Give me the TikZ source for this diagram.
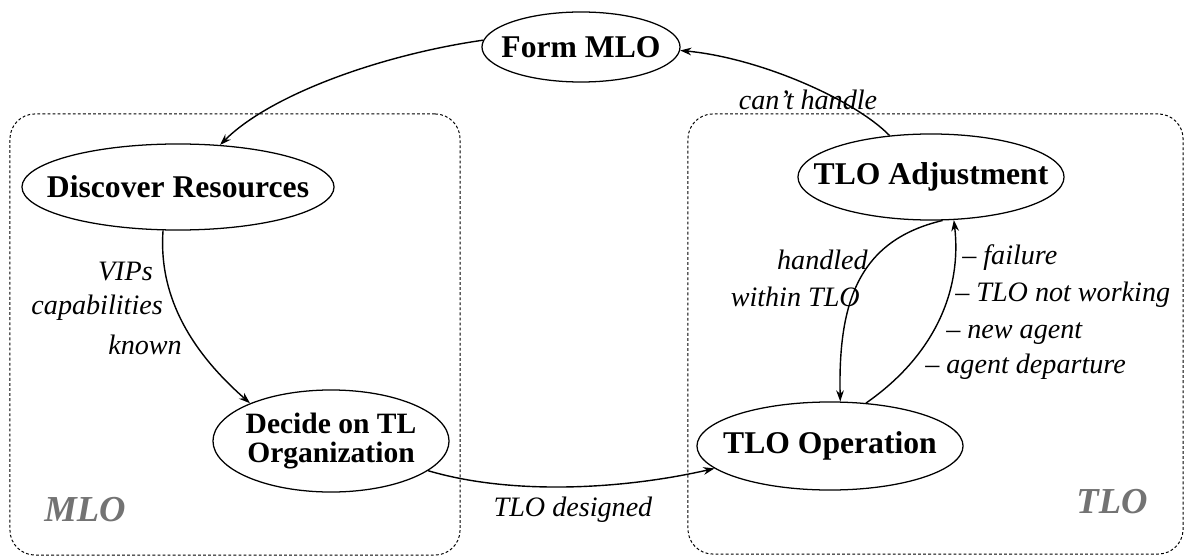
\documentclass[tikz,border=0pt]{standalone}
\usepackage{fontspec}
\setmainfont{Liberation Serif}
\usetikzlibrary{shapes.geometric,arrows.meta}
\tikzset{
  state/.style={draw, ellipse, line width=0.9pt, inner sep=0pt, font=\fontsize{22.5}{26}\selectfont\bfseries},
  region/.style={draw, rectangle, rounded corners=0.625cm, line width=0.7pt, dash pattern=on 2pt off 1.6pt, inner sep=0pt},
  edgelab/.style={inner sep=0pt, font=\fontsize{20}{24}\selectfont\itshape},
  regionlab/.style={inner sep=0pt, text=black!55, font=\fontsize{26}{30}\selectfont\bfseries\itshape},
  conn/.style={line width=1pt, -{Stealth[length=8pt,width=5.5pt]}},
}
\begin{document}
\begin{tikzpicture}[x=0.025cm, y=-0.025cm]
\path[fill=white, use as bounding box] (0,0) rectangle (1187,557);

% regions
\node[region, minimum width=11.25cm, minimum height=11.025cm] (mlobox) at (235,334.5) {};
\node[region, minimum width=12.375cm, minimum height=11cm] (tlobox) at (935.5,334) {};

% states
\node[state, minimum width=4.95cm, minimum height=1.75cm] (fm) at (581,47) {\makebox[0pt]{Form MLO}};
\node[state, minimum width=7.8cm, minimum height=2.15cm] (dr) at (178,187) {\makebox[0pt]{Discover Resources}};
\node[state, minimum width=5.9cm, minimum height=2.55cm, font=\fontsize{21}{24}\selectfont\bfseries] (dc) at (331,441)
  {\vbox{\baselineskip=20.5pt\hbox to 0pt{\hss Decide on TL\hss}\hbox to 0pt{\hss Organization\hss}}};
\node[state, minimum width=6.65cm, minimum height=2.15cm] (ta) at (931,177) {\makebox[0pt]{TLO Adjustment}};
\node[state, minimum width=6.65cm, minimum height=2.2cm] (to) at (830,446) {\makebox[0pt]{TLO Operation}};

% connectors
\draw[conn] (fm.176) .. controls (380,55) and (270,95) .. (dr.45);
\draw[conn] (dr.-109) .. controls (158,300) and (195,355) .. (dc.155);
\draw[conn] (dc.-17) .. controls (510,495) and (620,490) .. (to.191);
\draw[conn] (to.50) .. controls (935,355) and (962,290) .. (ta.-62);
\draw[conn] (ta.-75) .. controls (860,240) and (838,300) .. (to.77);
\draw[conn] (ta.135) .. controls (855,100) and (760,58) .. (fm.-2);

% labels
\node[edgelab, anchor=east] (vips) at (153,272) {VIPs};
\node[edgelab, anchor=east] (capab) at (163,308) {capabilities};
\node[edgelab, anchor=east] (known) at (182,345) {known};
\node[edgelab] (designed) at (573,510) {TLO designed};
\node[edgelab] (canthandle) at (808,100) {can’t handle};
\node[edgelab, anchor=east] (handled) at (868,260) {handled};
\node[edgelab, anchor=east] (within) at (860,297) {within TLO};
\node[edgelab, anchor=west] (failure) at (962,258) {– failure};
\node[edgelab, anchor=west] (notwork) at (955,295) {– TLO not working};
\node[edgelab, anchor=west] (newagent) at (946,334) {– new agent};
\node[edgelab, anchor=west] (departure) at (925,367) {– agent departure};
\node[regionlab] (mlolab) at (85,510) {MLO};
\node[regionlab] (tlolab) at (1112,502) {TLO};
\end{tikzpicture}
\end{document}
